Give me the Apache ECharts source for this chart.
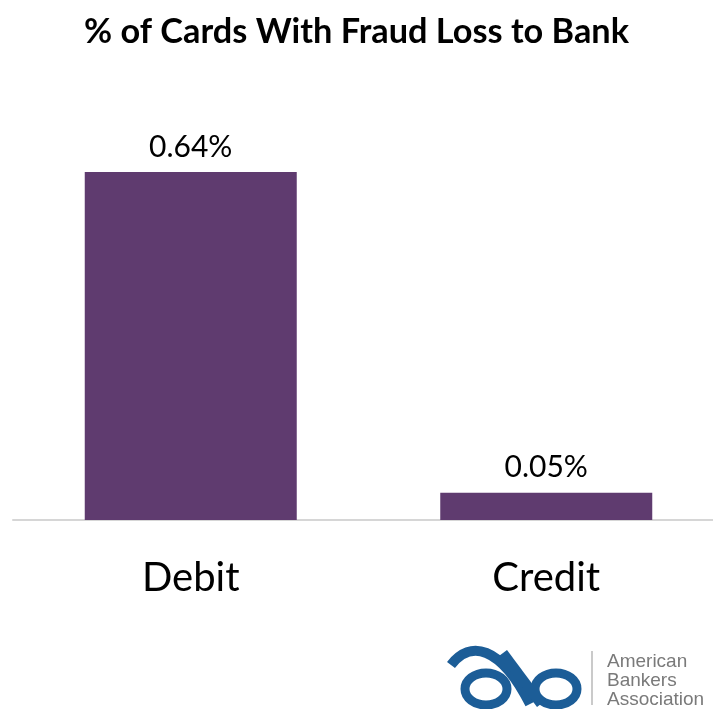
<!DOCTYPE html>
<html>
<head>
<meta charset="utf-8">
<script src="https://cdn.jsdelivr.net/npm/echarts@6/dist/echarts.min.js"></script>
<style>html,body{margin:0;padding:0;background:#fff}#c{width:713px;height:709px}</style>
</head>
<body>
<div id="c"></div>
<script>
var categories = ['Debit', 'Credit'];
var values = [0.64, 0.05];
var titleText = '% of Cards With Fraud Loss to Bank';
var logoLines = ['American', 'Bankers', 'Association'];

var chart = echarts.init(document.getElementById('c'));
var blue = '#1c5d97';
chart.setOption({
  animation: false,
  backgroundColor: '#fff',
  title: {
    text: titleText, left: 'center', top: 10,
    textStyle: { fontFamily: 'Lato', fontWeight: 'bold', fontSize: 34.3, color: '#000' }
  },
  grid: { left: 13, right: -11, top: 85, bottom: 189, containLabel: false, outerBoundsMode: 'none' },
  xAxis: {
    type: 'category', data: categories,
    axisLine: { lineStyle: { color: '#d6d6d6', width: 2 } },
    axisTick: { show: false },
    axisLabel: { fontFamily: 'Lato', fontSize: 40, color: '#000', margin: 38 }
  },
  yAxis: { type: 'value', min: 0, max: 0.8, show: false, splitLine: { show: false } },
  series: [{
    type: 'bar', data: values, barWidth: 212,
    itemStyle: { color: '#5f3b6f' },
    label: {
      show: true, position: 'top', distance: 10,
      fontFamily: 'Lato', fontSize: 30, color: '#000',
      formatter: function (p) { return p.value.toFixed(2) + '%'; }
    }
  }],
  graphic: [
    { type: 'line', shape: { x1: 592, y1: 651, x2: 592, y2: 705 }, style: { stroke: '#b8b8b8', lineWidth: 1.5 } },
    { type: 'text', x: 607, y: 652, style: { text: logoLines[0], font: '19px "Liberation Sans"', fill: '#7a7a7a' } },
    { type: 'text', x: 607, y: 671, style: { text: logoLines[1], font: '19px "Liberation Sans"', fill: '#7a7a7a' } },
    { type: 'text', x: 607, y: 690, style: { text: logoLines[2], font: '19px "Liberation Sans"', fill: '#7a7a7a' } },
    { type: 'ellipse', shape: { cx: 486, cy: 689, rx: 21, ry: 16 }, style: { fill: 'none', stroke: blue, lineWidth: 9 } },
    { type: 'ellipse', shape: { cx: 556, cy: 689, rx: 21, ry: 16 }, style: { fill: 'none', stroke: blue, lineWidth: 9 } },
    { type: 'bezierCurve', shape: { x1: 451, y1: 665, cpx1: 470, cpy1: 640, cpx2: 500, cpy2: 645, x2: 530, y2: 704 }, style: { fill: 'none', stroke: blue, lineWidth: 10 } },
    { type: 'line', shape: { x1: 503, y1: 653, x2: 541, y2: 704 }, style: { stroke: blue, lineWidth: 10 } }
  ]
});
</script>
</body>
</html>
